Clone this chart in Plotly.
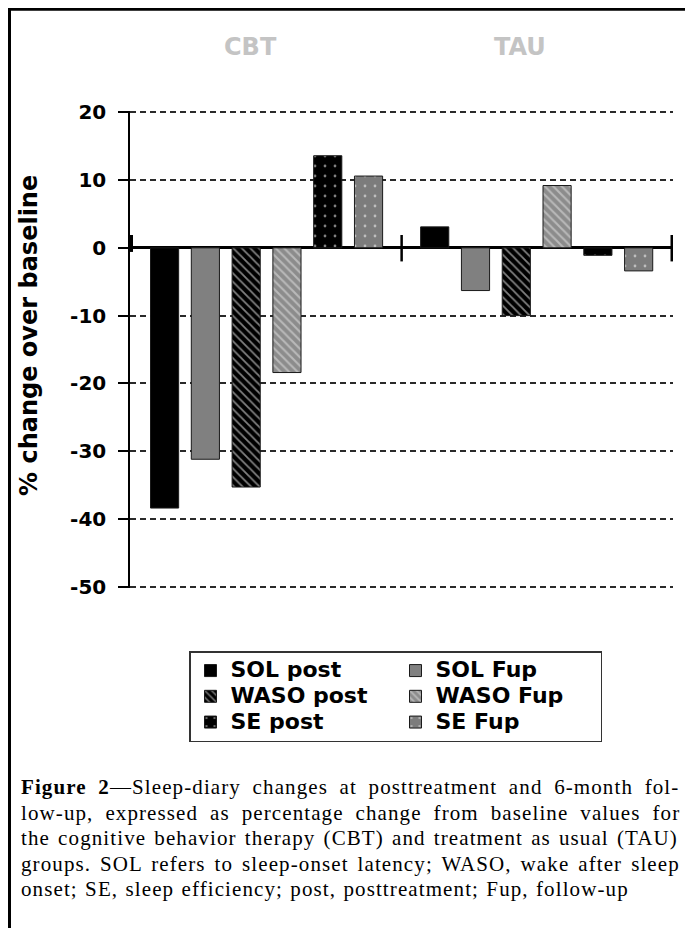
import plotly.graph_objects as go

# ---------------- data ----------------
groups = ["CBT", "TAU"]
series_names = ["SOL post", "SOL Fup", "WASO post", "WASO Fup", "SE post", "SE Fup"]
sol_post = [-38.4, 3.1]
sol_fup = [-31.2, -6.3]
waso_post = [-35.3, -10.0]
waso_fup = [-18.4, 9.2]
se_post = [13.6, -1.1]
se_fup = [10.6, -3.4]
y_tickvals = [20, 10, 0, -10, -20, -30, -40, -50]
y_ticktext = ["20", "10", "0", "-10", "-20", "-30", "-40", "-50"]
y_title = "% change over baseline"
caption_lines = [
    "<b>Figure 2</b>—Sleep-diary changes at posttreatment and 6-month fol-",
    "low-up, expressed as percentage change from baseline values for",
    "the cognitive behavior therapy (CBT) and treatment as usual (TAU)",
    "groups. SOL refers to sleep-onset latency; WASO, wake after sleep",
    "onset; SE, sleep efficiency; post, posttreatment; Fup, follow-up",
]

series_values = [sol_post, sol_fup, waso_post, waso_fup, se_post, se_fup]

# ---------------- styles ----------------
styles = [
    dict(bg="#000000", fg="#000000", shape="", size=6, sol=0.3),
    dict(bg="#808080", fg="#808080", shape="", size=6, sol=0.3),
    dict(bg="#000000", fg="#ffffff", shape="\\", size=6, sol=0.3),
    dict(bg="#8c8c8c", fg="#e6e6e6", shape="\\", size=6, sol=0.35),
    dict(bg="#000000", fg="#ffffff", shape=".", size=10, sol=0.06),
    dict(bg="#7c7c7c", fg="#ffffff", shape=".", size=10, sol=0.06),
]

OFF = 8  # page body margin of the browser
PAD = 0.2  # small range padding so the edge gridlines (20, -50) are drawn
UNIT = 6.77  # px per unit
W_FIG, H_FIG = 693 - OFF, 928 - OFF
L, T = 130 - OFF, 112.6 - OFF - PAD * UNIT
PW, PH = 543, 473.9 + 2 * PAD * UNIT


def px(x):
    """reference page x -> paper x"""
    return (x - OFF - L) / PW


def py(y):
    """reference page y -> paper y"""
    return (T + PH - (y - OFF)) / PH


fig = go.Figure()
for name, vals, st in zip(series_names, series_values, styles):
    marker = dict(color=st["bg"], line=dict(color="#1a1a1a", width=1))
    if st["shape"]:
        marker["pattern"] = dict(shape=st["shape"], bgcolor=st["bg"], fgcolor=st["fg"],
                                 size=st["size"], solidity=st["sol"], fillmode="overlay")
    fig.add_trace(go.Bar(x=groups, y=vals, name='<span style="font-size:22px">%s</span>' % name,
                         marker=marker))

sans = "DejaVu Sans"
serif = "Liberation Serif"

fig.update_layout(
    width=W_FIG, height=H_FIG,
    margin=dict(l=L, r=W_FIG - L - PW, t=T, b=H_FIG - T - PH, autoexpand=False),
    paper_bgcolor="white", plot_bgcolor="white",
    barmode="group", bargap=0.094, bargroupgap=0.31,
    showlegend=True,
    legend=dict(
        orientation="h", x=px(189), y=py(651), xanchor="left", yanchor="top",
        xref="paper", yref="paper",
        entrywidth=160, bordercolor="#333333", borderwidth=1.5, bgcolor="white",
        font=dict(family=sans, size=17.5, color="black", weight="bold"),
        traceorder="normal",
    ),
    xaxis=dict(showticklabels=False, showgrid=False, zeroline=False, showline=False, ticks=""),
    yaxis=dict(
        range=[-50 - PAD, 20 + PAD], tickvals=y_tickvals, ticktext=y_ticktext,
        showgrid=True, gridcolor="#2a2a2a", gridwidth=2, griddash="6px,4px",
        zeroline=True, zerolinecolor="black", zerolinewidth=3,
        showline=True, linecolor="black", linewidth=1.5,
        ticks="outside", ticklen=10, tickwidth=1.5, tickcolor="black",
        ticklabelstandoff=8,
        tickfont=dict(family=sans, size=20, color="black", weight="bold"),
    ),
)

shapes = []
# cross ticks on the zero line at category boundaries
for b in [0.5, 1.5]:
    shapes.append(dict(type="line", xref="x", yref="y", x0=b, x1=b, y0=-2.0, y1=1.9,
                       line=dict(color="black", width=2.5)))
shapes.append(dict(type="line", xref="x", yref="y", x0=-0.5, x1=-0.5, y0=-0.6, y1=1.9,
                   line=dict(color="black", width=3)))
# outer frame (left and top)
shapes.append(dict(type="line", xref="paper", yref="paper", x0=px(9.5), x1=px(9.5),
                   y0=py(8), y1=py(940), line=dict(color="black", width=3)))
shapes.append(dict(type="line", xref="paper", yref="paper", x0=px(8), x1=px(700),
                   y0=py(9.5), y1=py(9.5), line=dict(color="black", width=3)))
fig.update_layout(shapes=shapes)

annotations = []
annotations.append(dict(text="<b>" + y_title + "</b>", textangle=-90, xref="paper", yref="paper",
                        x=px(29), y=py(336), xanchor="center", yanchor="middle", showarrow=False,
                        font=dict(family=sans, size=24, color="black")))
for g, xc in zip(groups, [250, 520]):
    annotations.append(dict(text="<b>" + g + "</b>", xref="paper", yref="paper", x=px(xc), y=py(47),
                            xanchor="center", yanchor="middle", showarrow=False,
                            font=dict(family=sans, size=24, color="#c4c4c4")))

line_centers = [787, 812.5, 838, 863.5, 889]
word_spacing = [5.3, 5.6, 1.8, 2.6, 1.0]
for txt, yc, ws in zip(caption_lines, line_centers, word_spacing):
    annotations.append(dict(
        text='<span style="letter-spacing:1.1px;word-spacing:%.1fpx">%s</span>' % (ws, txt),
        xref="paper", yref="paper", x=px(19), y=py(yc), xanchor="left", yanchor="middle",
        showarrow=False, font=dict(family=serif, size=21, color="black")))
fig.update_layout(annotations=annotations)

fig.write_html("out.html")
